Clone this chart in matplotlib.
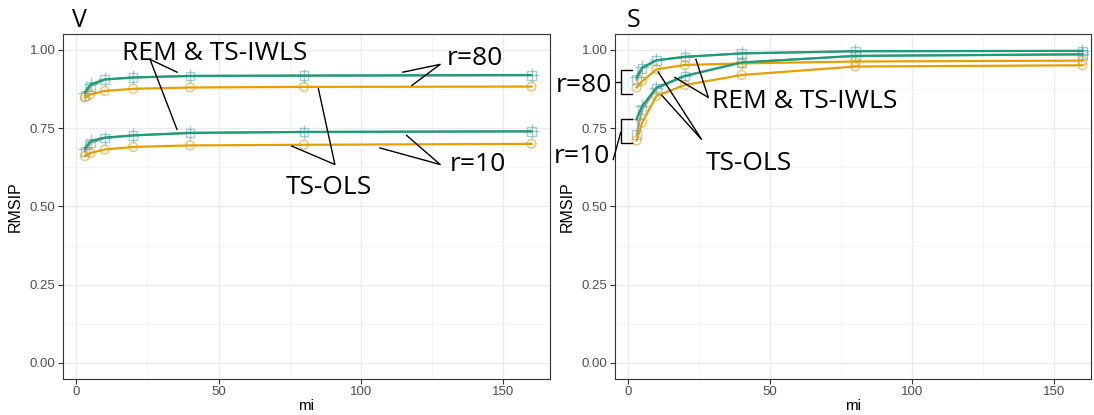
import matplotlib.pyplot as plt

# mi values and RMSIP
mi = [3, 5, 10, 20, 40, 80, 160]

# panel V
v_rem80 = [0.855, 0.884, 0.905, 0.912, 0.917, 0.918, 0.919]
v_iwls80 = [0.864, 0.890, 0.906, 0.912, 0.917, 0.918, 0.920]
v_ols80 = [0.848, 0.858, 0.869, 0.876, 0.880, 0.882, 0.883]
v_rem10 = [0.676, 0.703, 0.719, 0.727, 0.735, 0.738, 0.740]
v_iwls10 = [0.685, 0.709, 0.720, 0.727, 0.735, 0.738, 0.740]
v_ols10 = [0.661, 0.671, 0.682, 0.690, 0.695, 0.697, 0.700]

# panel S
s_rem80 = [0.905, 0.940, 0.967, 0.978, 0.989, 0.996, 0.997]
s_iwls80 = [0.912, 0.944, 0.967, 0.978, 0.989, 0.996, 0.997]
s_ols80 = [0.880, 0.900, 0.938, 0.952, 0.957, 0.963, 0.966]
s_rem10 = [0.730, 0.810, 0.876, 0.917, 0.960, 0.981, 0.986]
s_iwls10 = [0.778, 0.821, 0.880, 0.917, 0.960, 0.981, 0.986]
s_ols10 = [0.711, 0.768, 0.853, 0.888, 0.920, 0.947, 0.951]

y_ticks = [0.0, 0.25, 0.5, 0.75, 1.0]
x_ticks = [0, 50, 100, 150]

teal = '#1b9e77'
teal_pt = '#4fa9b5'
grey = '#9a9a9a'
orange = '#e69f00'

plt.rcParams['font.family'] = ['Open Sans', 'DejaVu Sans']

W, H = 1094, 415
fig = plt.figure(figsize=(W / 100, H / 100), dpi=100)
ax_v = fig.add_axes([63 / W, 1 - 378.6 / H, 487 / W, 344.3 / H])
ax_s = fig.add_axes([615 / W, 1 - 378.6 / H, 476 / W, 344.3 / H])


def draw_panel(ax, series, xlim):
    for rem, iwls, ols in series:
        ax.scatter(mi, rem, marker='s', s=38, facecolors='none',
                   edgecolors=teal_pt, linewidths=1, alpha=0.55, zorder=2)
        ax.scatter(mi, iwls, marker='+', s=90, color=teal_pt,
                   linewidths=1, alpha=0.55, zorder=2)
        ax.scatter(mi, ols, marker='o', s=40, facecolors='none',
                   edgecolors=orange, linewidths=1, alpha=0.6, zorder=2)
        ax.plot(mi, rem, color=grey, lw=1.5, zorder=3)
        ax.plot(mi, iwls, color=teal, lw=1.6, zorder=4)
        ax.plot(mi, ols, color=orange, lw=1.6, zorder=4)

    ax.set_xlim(*xlim)
    ax.set_ylim(-0.05, 1.05)
    ax.set_xticks(x_ticks)
    ax.set_xticks([25, 75, 125], minor=True)
    ax.set_yticks(y_ticks)
    ax.set_yticks([0.125, 0.375, 0.625, 0.875], minor=True)
    ax.set_yticklabels(['%.2f' % v for v in y_ticks])
    ax.grid(which='major', color='#ebebeb', lw=1.0, zorder=0)
    ax.grid(which='minor', color='#f3f3f3', lw=0.6, zorder=0)
    ax.set_axisbelow(True)
    ax.tick_params(which='major', length=3.5, width=0.8, color='#333333',
                   labelcolor='#4d4d4d', labelsize=9.5, pad=2)
    ax.tick_params(which='minor', length=0)
    for lab in ax.get_xticklabels() + ax.get_yticklabels():
        lab.set_family(['Liberation Sans', 'DejaVu Sans'])
    for sp in ax.spines.values():
        sp.set_color('#333333')
        sp.set_linewidth(0.8)
    ax.set_xlabel('mi', fontsize=11, family=['Liberation Sans'], labelpad=0.5)
    ax.set_ylabel('RMSIP', fontsize=11.5, family=['Liberation Sans'], labelpad=5)


draw_panel(ax_v, [(v_rem80, v_iwls80, v_ols80), (v_rem10, v_iwls10, v_ols10)],
           (-4.67, 166.5))
draw_panel(ax_s, [(s_rem80, s_iwls80, s_ols80), (s_rem10, s_iwls10, s_ols10)],
           (-4.58, 163.0))

fig.text(72 / W, 1 - 27 / H, 'V', fontsize=18, va='baseline')
fig.text(627 / W, 1 - 27 / H, 'S', fontsize=18, va='baseline')

fs = 19
kw = dict(color='black', lw=1.0, clip_on=False, zorder=6)

# annotations, panel V
ax_v.text(48.6, 0.967, 'REM & TS-IWLS', fontsize=fs, ha='center', va='baseline')
ax_v.plot([35.4, 25.9, 35.4], [0.929, 0.970, 0.746], **kw)
ax_v.text(140.1, 0.951, 'r=80', fontsize=fs, ha='center', va='baseline')
ax_v.plot([114.8, 127.9, 118.0], [0.929, 0.954, 0.887], **kw)
ax_v.text(141.0, 0.612, 'r=10', fontsize=fs, ha='center', va='baseline')
ax_v.plot([116.1, 127.9, 106.7], [0.727, 0.634, 0.687], **kw)
ax_v.text(88.9, 0.541, 'TS-OLS', fontsize=fs, ha='center', va='baseline')
ax_v.plot([85.1, 90.9, 75.7], [0.876, 0.634, 0.693], **kw)

# annotations, panel S
ax_s.text(62.3, 0.813, 'REM & TS-IWLS', fontsize=fs, ha='center', va='baseline')
ax_s.plot([23.9, 28.3, 16.5], [0.970, 0.848, 0.912], **kw)
ax_s.text(42.5, 0.615, 'TS-OLS', fontsize=fs, ha='center', va='baseline')
ax_s.plot([10.6, 25.9, 11.9], [0.930, 0.714, 0.855], **kw)
ax_s.text(-15.4, 0.865, 'r=80', fontsize=fs, ha='center', va='baseline')
ax_s.plot([1.3, -2.57, -2.57, 1.3], [0.936, 0.936, 0.858, 0.858], **kw)
ax_s.plot([-4.2, -2.57], [0.898, 0.898], **kw)
ax_s.text(-16.3, 0.640, 'r=10', fontsize=fs, ha='center', va='baseline')
ax_s.plot([1.3, -2.57, -2.57, 1.3], [0.778, 0.778, 0.703, 0.703], **kw)
ax_s.plot([-2.57, -5.2], [0.736, 0.650], **kw)

fig.savefig('out.png', dpi=100)
